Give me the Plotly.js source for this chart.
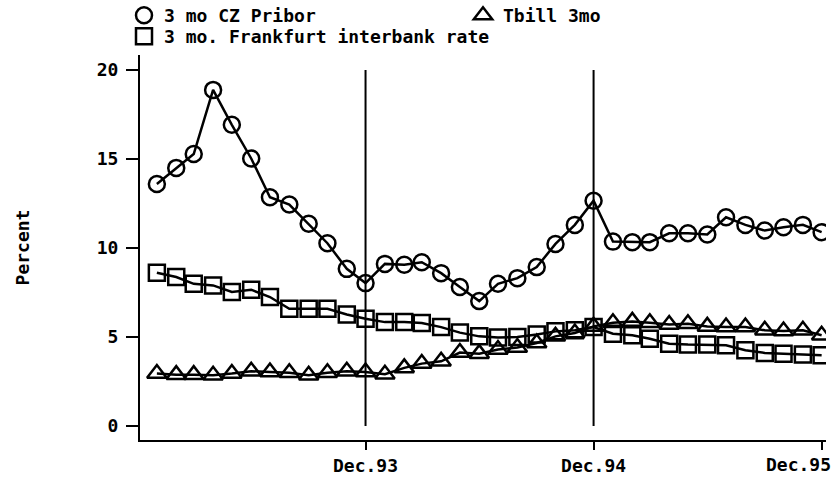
<!DOCTYPE html>
<html>
<head>
<meta charset="utf-8">
<script src="https://cdn.plot.ly/plotly-3.0.1.min.js"></script>
<style>html,body{margin:0;padding:0;background:#fff;}#chart{width:838px;height:477px;}</style>
</head>
<body>
<div id="chart"></div>
<script>
// ---- data ----
const months = [
  '1993-01','1993-02','1993-03','1993-04','1993-05','1993-06','1993-07','1993-08','1993-09','1993-10','1993-11','1993-12',
  '1994-01','1994-02','1994-03','1994-04','1994-05','1994-06','1994-07','1994-08','1994-09','1994-10','1994-11','1994-12',
  '1995-01','1995-02','1995-03','1995-04','1995-05','1995-06','1995-07','1995-08','1995-09','1995-10','1995-11','1995-12'
];
const pribor = [13.6, 14.5, 15.28, 18.88, 16.92, 15.03, 12.85, 12.44, 11.36, 10.27, 8.83, 8.03,
                9.11, 9.06, 9.2, 8.59, 7.81, 7.02, 7.99, 8.31, 8.93, 10.23, 11.3, 12.66,
                10.36, 10.33, 10.33, 10.83, 10.83, 10.76, 11.73, 11.3, 10.98, 11.17, 11.3, 10.89];
const frankfurt = [8.61, 8.37, 7.99, 7.9, 7.53, 7.66, 7.25, 6.59, 6.59, 6.59, 6.27, 6.03,
                   5.84, 5.84, 5.79, 5.56, 5.25, 5.04, 4.97, 5.0, 5.14, 5.32, 5.38, 5.56,
                   5.19, 5.1, 4.91, 4.63, 4.58, 4.58, 4.54, 4.26, 4.11, 4.07, 4.02, 3.98];
const tbill = [2.95, 2.89, 2.89, 2.86, 2.95, 3.08, 3.04, 3.0, 2.86, 3.0, 3.08, 3.04,
               2.91, 3.27, 3.51, 3.64, 4.13, 4.07, 4.3, 4.41, 4.67, 5.04, 5.23, 5.6,
               5.8, 5.88, 5.8, 5.7, 5.75, 5.6, 5.56, 5.56, 5.38, 5.34, 5.38, 5.1];
const seriesNames = ['3 mo CZ Pribor', 'Tbill 3mo', '3 mo. Frankfurt interbank rate'];
const xTickVals = ['1993-12-01', '1994-12-01', '1995-12-01'];
const xTickText = ['Dec.93', 'Dec.94', 'Dec.95'];
const yTickVals = [0, 5, 10, 15, 20];
const refLines = ['1993-12-01', '1994-12-01'];
const refLineSpan = [0, 20];

// ---- styling ----
const FONT = 'DejaVu Sans Mono';
const fnt = {family: FONT, size: 18, color: '#000', weight: 'bold'};
const legFnt = {family: FONT, size: 18, color: '#000', weight: 'bold'};

function lineTrace(y) {
  return {x: months, y: y, type: 'scatter', mode: 'lines', showlegend: false,
          line: {color: '#000', width: 2.5}, hoverinfo: 'skip'};
}
function markTrace(y, name, symbol, size, legendId) {
  return {x: months, y: y, type: 'scatter', mode: 'markers', name: name, legend: legendId,
          marker: {symbol: symbol, size: size, color: '#000', line: {color: '#000', width: 2.5}}};
}

const data = [
  lineTrace(pribor), lineTrace(frankfurt), lineTrace(tbill),
  markTrace(pribor, seriesNames[0], 'circle-open', 16, 'legend'),
  markTrace(tbill, seriesNames[1], 'triangle-up-open', 17, 'legend2'),
  markTrace(frankfurt, seriesNames[2], 'square-open', 16, 'legend3')
];

function legendAt(px, py) {
  return {x: px / 838, y: 1 - py / 477, xref: 'container', yref: 'container',
          xanchor: 'left', yanchor: 'middle', orientation: 'h', font: legFnt,
          bgcolor: 'rgba(0,0,0,0)', borderwidth: 0, itemwidth: 30};
}

const shapes = refLines.map(d => ({type: 'line', xref: 'x', yref: 'y', x0: d, x1: d,
  y0: refLineSpan[0], y1: refLineSpan[1], line: {color: '#000', width: 2}}));

// The last tick label is drawn so that it stays inside the picture (as in the reference)
const lastIdx = xTickVals.length - 1;
const annotations = [{
  x: xTickVals[lastIdx], xref: 'x', y: 0, yref: 'paper',
  text: xTickText[lastIdx], showarrow: false, font: fnt,
  xanchor: 'right', yanchor: 'top', xshift: 11, yshift: -12
}];

const layout = {
  width: 838, height: 477,
  margin: {l: 140, r: 12, t: 54, b: 37},
  paper_bgcolor: '#fff', plot_bgcolor: '#fff',
  font: fnt,
  showlegend: true,
  legend: legendAt(124, 15.5),
  legend2: legendAt(463, 15.5),
  legend3: legendAt(124, 36.5),
  xaxis: {
    type: 'date', range: ['1992-12-05', '1995-12-08'],
    tickmode: 'array', tickvals: xTickVals,
    ticktext: xTickText.map((t, i) => i === lastIdx ? '' : t),
    ticks: 'outside', ticklen: 8, tickwidth: 2, tickcolor: '#000',
    showline: true, linewidth: 2, linecolor: '#000', showgrid: false, zeroline: false,
    tickfont: fnt, ticklabelstandoff: 0
  },
  yaxis: {
    range: [-0.78, 20.84],
    tickmode: 'array', tickvals: yTickVals,
    ticks: 'outside', ticklen: 12, tickwidth: 2, tickcolor: '#000',
    showline: true, linewidth: 2, linecolor: '#000', showgrid: false, zeroline: false,
    tickfont: fnt, ticklabelstandoff: 4,
    title: {text: 'Percent', font: fnt, standoff: 62}
  },
  shapes: shapes,
  annotations: annotations
};

Plotly.newPlot('chart', data, layout, {displayModeBar: false, staticPlot: true});
</script>
</body>
</html>
